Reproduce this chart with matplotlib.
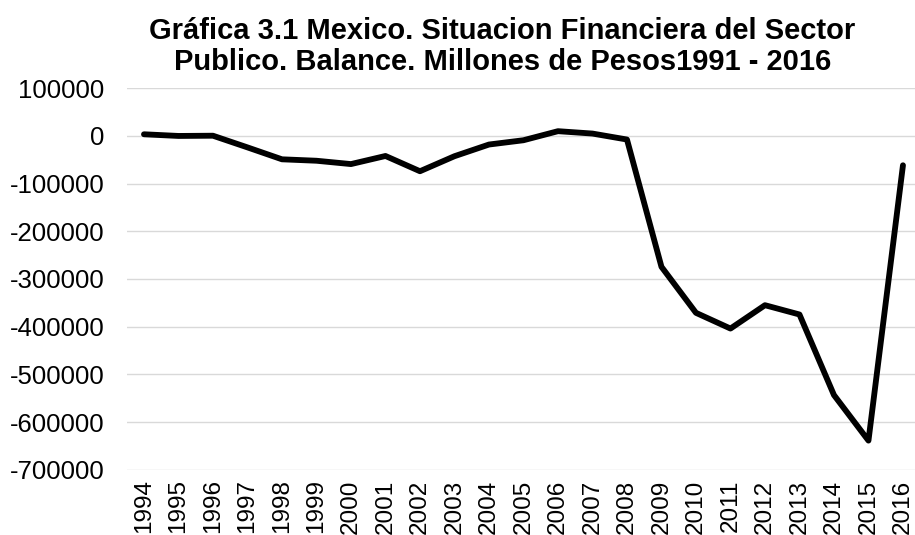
import numpy as np
import matplotlib
matplotlib.use("Agg")
import matplotlib.pyplot as plt

plt.rcParams['font.family'] = ['Liberation Sans', 'DejaVu Sans']

# data (millones de pesos)
years = ['1994', '1995', '1996', '1997', '1998', '1999', '2000', '2001',
         '2002', '2003', '2004', '2005', '2006', '2007', '2008', '2009',
         '2010', '2011', '2012', '2013', '2014', '2015', '2016']
balance = [3500, 0, 500, -24000, -49000, -52000, -59000, -42000,
           -74000, -42500, -18000, -9000, 10000, 5000, -7500, -274500,
           -371000, -404000, -355000, -374500, -543500, -639000, -61500]
y_ticks = [100000, 0, -100000, -200000, -300000, -400000, -500000, -600000, -700000]

title_lines = ["Gráfica 3.1 Mexico. Situacion Financiera del Sector",
               "Publico. Balance. Millones de Pesos1991 - 2016"]

fig = plt.figure(figsize=(9.15, 5.35), dpi=100)
ax = fig.add_axes([0.1385, 0.1221, 0.8672, 0.7129])

x = np.arange(len(years))
ax.plot(x, balance, color='black', lw=4.2, solid_joinstyle='round',
        solid_capstyle='round', zorder=3)

ax.set_xlim(-0.5, len(years) - 0.5)
ax.set_ylim(-700000, 100000)
ax.set_yticks(y_ticks)
ax.set_yticklabels([str(v) for v in y_ticks])
ax.set_xticks(x)
ax.set_xticklabels(years, rotation=90, va='top', ha='center')

ax.grid(axis='y', color='#d9d9d9', lw=1.0)
ax.set_axisbelow(True)
for s in ax.spines.values():
    s.set_visible(False)
ax.tick_params(axis='y', length=0, pad=16, labelsize=18.5, labelcolor='black')
ax.tick_params(axis='x', length=0, pad=7, labelsize=17.5, labelcolor='black')

# two-line title, centred a bit right of the figure middle like the original
fig.text(0.549, 1 - 39 / 535, title_lines[0], ha='center', va='baseline',
         fontsize=21, fontweight='bold')
fig.text(0.549, 1 - 70 / 535, title_lines[1], ha='center', va='baseline',
         fontsize=21, fontweight='bold')

fig.savefig('out.png', dpi=100)
